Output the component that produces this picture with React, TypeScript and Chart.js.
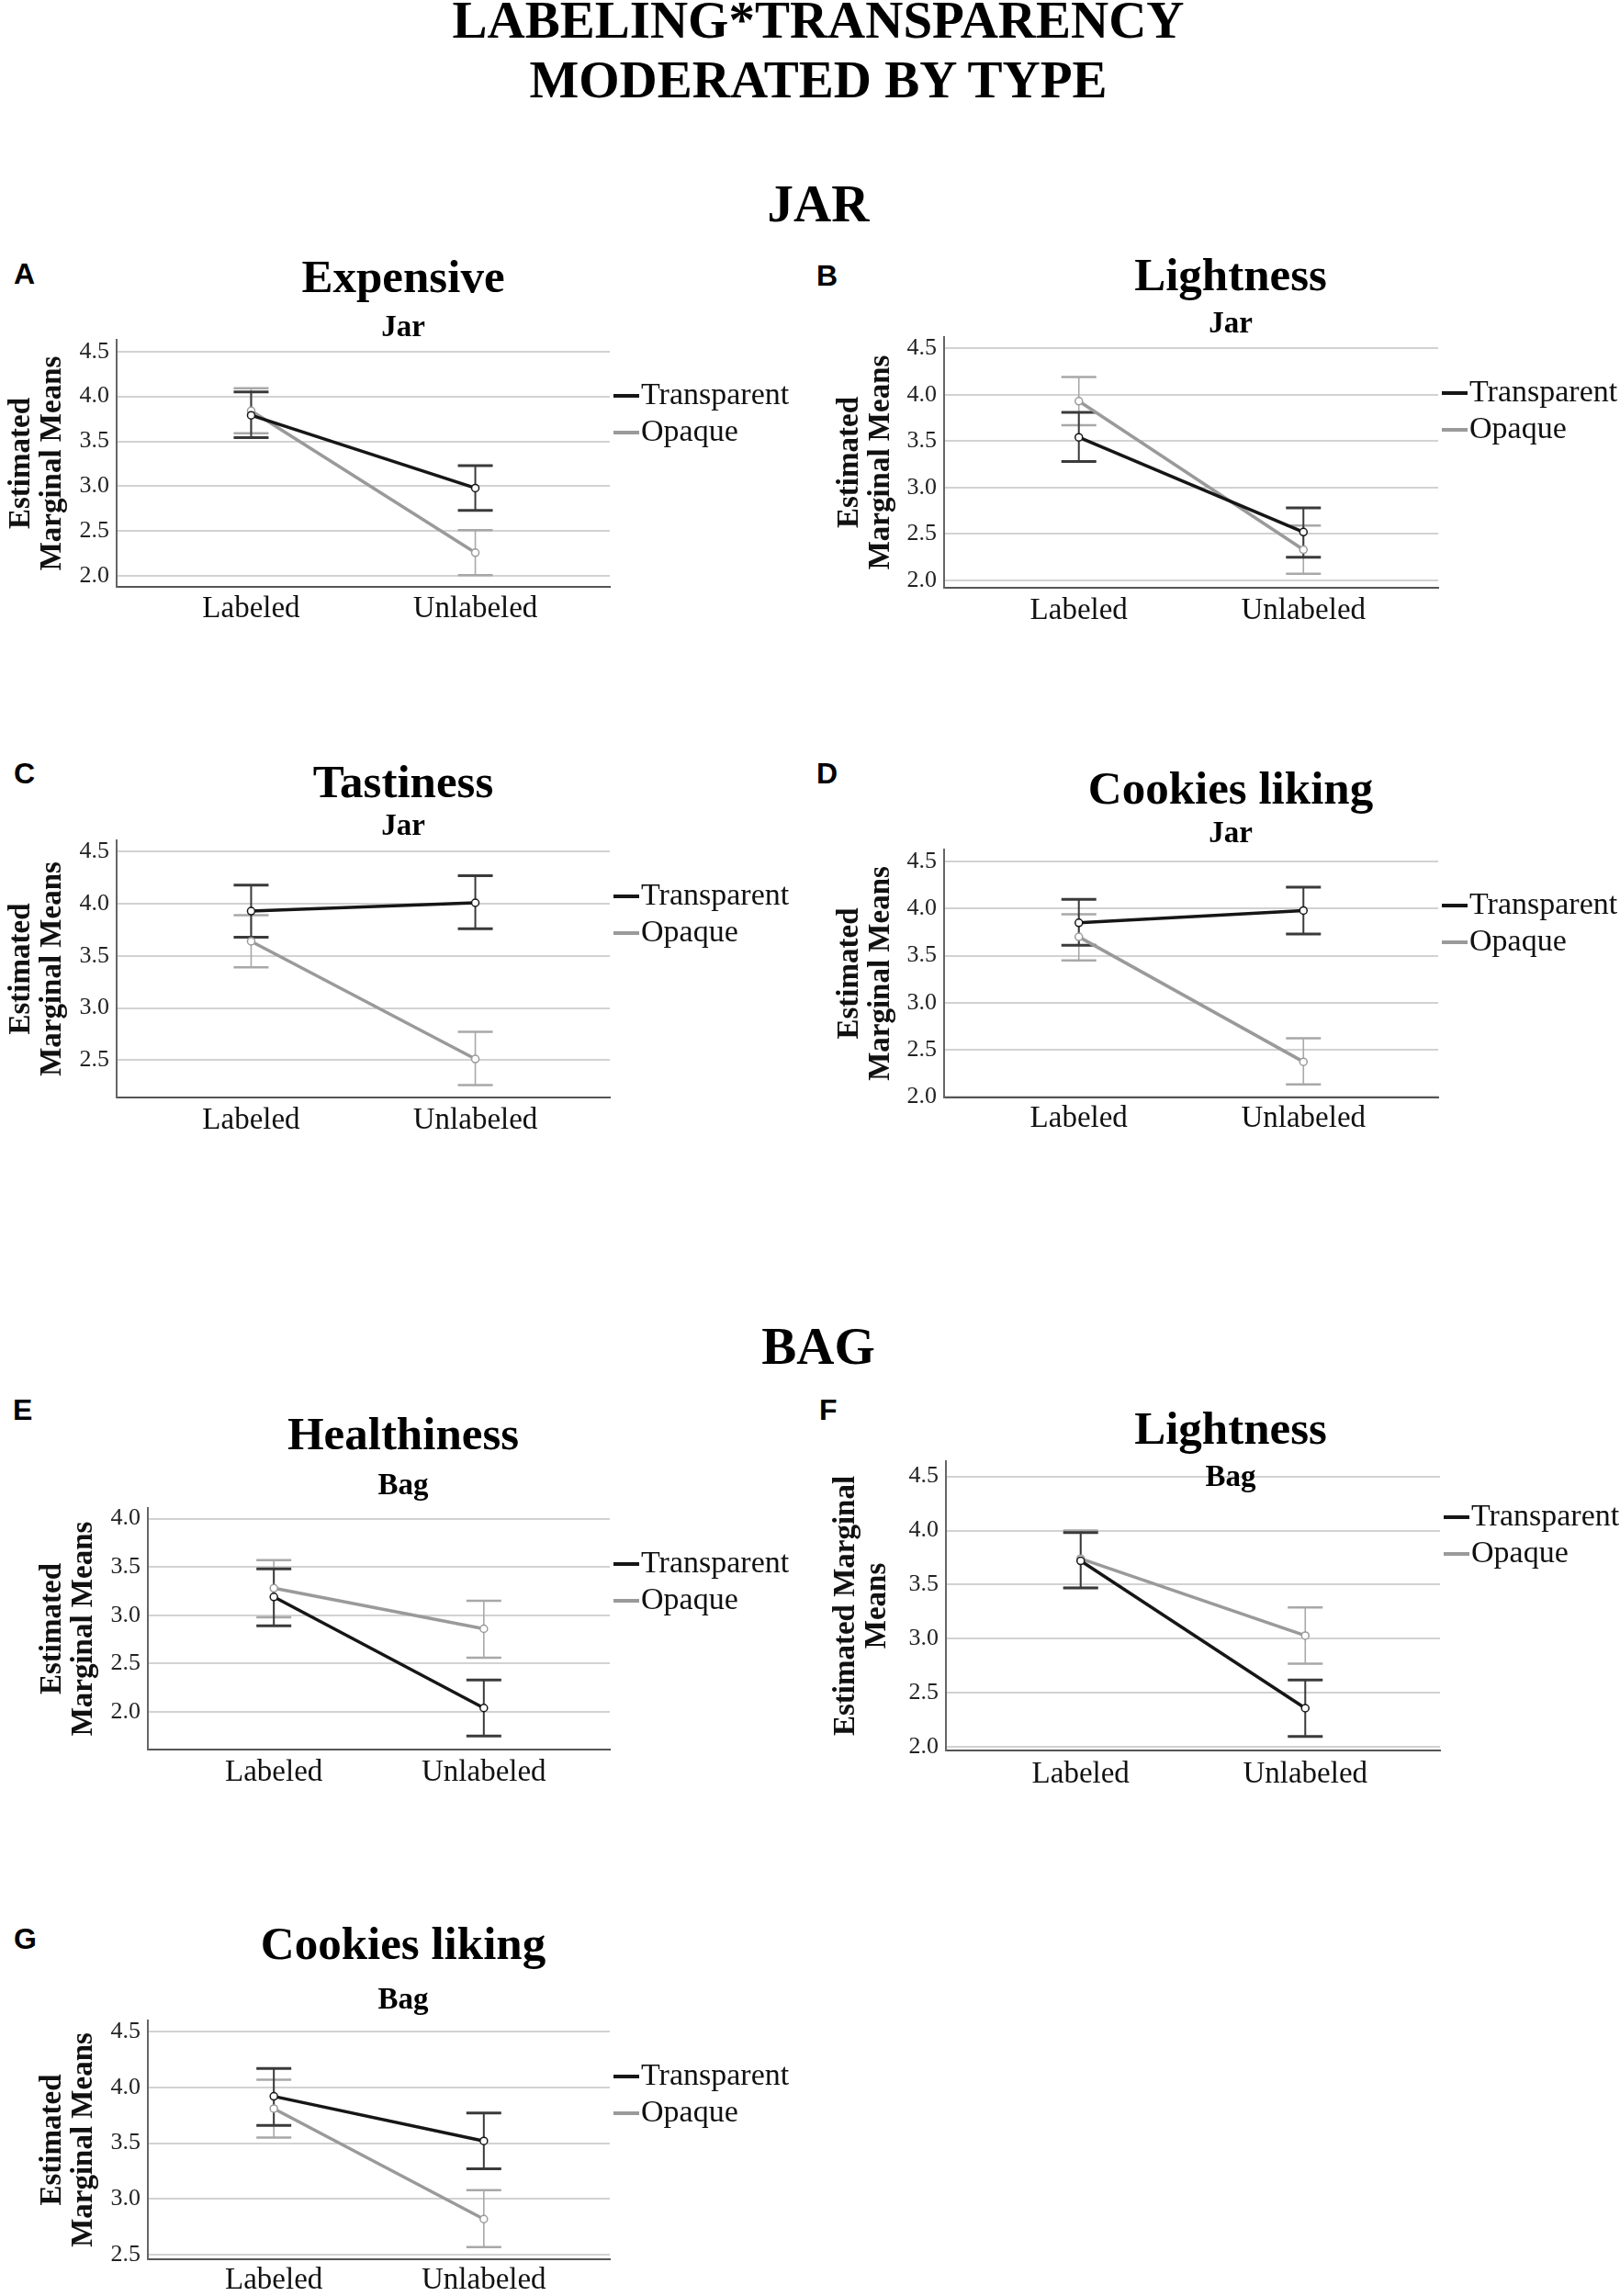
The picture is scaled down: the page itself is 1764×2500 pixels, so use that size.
import React, { useEffect, useRef } from 'react';
import { Chart, registerables } from 'chart.js';

Chart.register(...registerables);

// ---------- data ----------
const CATEGORIES = ['Labeled', 'Unlabeled'];
const SERIES = ['Transparent', 'Opaque'];

const Y_TITLE = ['Estimated', 'Marginal Means'];
const Y_TITLE_WIDE = ['Estimated Marginal', 'Means'];

// A: Expensive (Jar)
const A_TRANSPARENT = [3.79, 2.98];
const A_TRANSPARENT_LO = [3.54, 2.73];
const A_TRANSPARENT_HI = [4.05, 3.23];
const A_OPAQUE = [3.84, 2.26];
const A_OPAQUE_LO = [3.59, 2.01];
const A_OPAQUE_HI = [4.09, 2.51];
const A_TICKS = [2.0, 2.5, 3.0, 3.5, 4.0, 4.5];

// B: Lightness (Jar)
const B_TRANSPARENT = [3.54, 2.52];
const B_TRANSPARENT_LO = [3.28, 2.25];
const B_TRANSPARENT_HI = [3.81, 2.78];
const B_OPAQUE = [3.93, 2.33];
const B_OPAQUE_LO = [3.67, 2.07];
const B_OPAQUE_HI = [4.19, 2.59];
const B_TICKS = [2.0, 2.5, 3.0, 3.5, 4.0, 4.5];

// C: Tastiness (Jar)
const C_TRANSPARENT = [3.93, 4.01];
const C_TRANSPARENT_LO = [3.68, 3.76];
const C_TRANSPARENT_HI = [4.18, 4.27];
const C_OPAQUE = [3.64, 2.51];
const C_OPAQUE_LO = [3.39, 2.26];
const C_OPAQUE_HI = [3.89, 2.77];
const C_TICKS = [2.5, 3.0, 3.5, 4.0, 4.5];

// D: Cookies liking (Jar)
const D_TRANSPARENT = [3.85, 3.98];
const D_TRANSPARENT_LO = [3.61, 3.73];
const D_TRANSPARENT_HI = [4.10, 4.23];
const D_OPAQUE = [3.70, 2.37];
const D_OPAQUE_LO = [3.45, 2.13];
const D_OPAQUE_HI = [3.94, 2.62];
const D_TICKS = [2.0, 2.5, 3.0, 3.5, 4.0, 4.5];

// E: Healthiness (Bag)
const E_TRANSPARENT = [3.19, 2.04];
const E_TRANSPARENT_LO = [2.89, 1.75];
const E_TRANSPARENT_HI = [3.48, 2.33];
const E_OPAQUE = [3.28, 2.86];
const E_OPAQUE_LO = [2.98, 2.56];
const E_OPAQUE_HI = [3.57, 3.15];
const E_TICKS = [2.0, 2.5, 3.0, 3.5, 4.0];

// F: Lightness (Bag)
const F_TRANSPARENT = [3.72, 2.36];
const F_TRANSPARENT_LO = [3.47, 2.10];
const F_TRANSPARENT_HI = [3.98, 2.62];
const F_OPAQUE = [3.74, 3.03];
const F_OPAQUE_LO = [3.47, 2.77];
const F_OPAQUE_HI = [4.00, 3.29];
const F_TICKS = [2.0, 2.5, 3.0, 3.5, 4.0, 4.5];

// G: Cookies liking (Bag)
const G_TRANSPARENT = [3.92, 3.52];
const G_TRANSPARENT_LO = [3.66, 3.27];
const G_TRANSPARENT_HI = [4.17, 3.77];
const G_OPAQUE = [3.81, 2.82];
const G_OPAQUE_LO = [3.55, 2.57];
const G_OPAQUE_HI = [4.07, 3.08];
const G_TICKS = [2.5, 3.0, 3.5, 4.0, 4.5];

// ---------- styling / layout ----------
const SERIF = '"Liberation Serif", "Times New Roman", serif';
const SANS = '"Liberation Sans", Arial, sans-serif';
const LINE_COLORS = ['#161616', '#9a9a9a'];
const ERR_COLORS = ['#3a3a3a', '#a8a8a8'];
const ERR_STEM = [2, 1.6];
const ERR_CAP = [3, 2.5];

const CANVAS_W = 876;
const PAD_L = 6;
const LEFT_X = -2;
const RIGHT_X = 899;

type Panel = {
  letter: string; title: string; sub: string;
  t: number[]; tLo: number[]; tHi: number[];
  o: number[]; oLo: number[]; oHi: number[];
  ticks: number[]; yMin: number; yMax: number;
  cx: number; chartLeft: number; chartRight: number;
  tc: number; sc: number; ct: number; cb: number; lc: number;
  yTitle: string[]; yTitlePad: number; letterX: number; letterY: number;
};

const PANELS: Panel[] = [
  { letter: 'A', title: 'Expensive', sub: 'Jar', t: A_TRANSPARENT, tLo: A_TRANSPARENT_LO, tHi: A_TRANSPARENT_HI, o: A_OPAQUE, oLo: A_OPAQUE_LO, oHi: A_OPAQUE_HI, ticks: A_TICKS, yMin: 1.88, yMax: 4.63,
    cx: LEFT_X, chartLeft: 127, chartRight: 664, tc: 305, sc: 357, ct: 370, cb: 639, lc: 663, yTitle: Y_TITLE, yTitlePad: 3, letterX: 15, letterY: 298 },
  { letter: 'B', title: 'Lightness', sub: 'Jar', t: B_TRANSPARENT, tLo: B_TRANSPARENT_LO, tHi: B_TRANSPARENT_HI, o: B_OPAQUE, oLo: B_OPAQUE_LO, oHi: B_OPAQUE_HI, ticks: B_TICKS, yMin: 1.92, yMax: 4.62,
    cx: RIGHT_X, chartLeft: 1028, chartRight: 1566, tc: 303, sc: 353, ct: 367, cb: 640, lc: 665, yTitle: Y_TITLE, yTitlePad: 4, letterX: 889, letterY: 300 },
  { letter: 'C', title: 'Tastiness', sub: 'Jar', t: C_TRANSPARENT, tLo: C_TRANSPARENT_LO, tHi: C_TRANSPARENT_HI, o: C_OPAQUE, oLo: C_OPAQUE_LO, oHi: C_OPAQUE_HI, ticks: C_TICKS, yMin: 2.14, yMax: 4.61,
    cx: LEFT_X, chartLeft: 127, chartRight: 664, tc: 855, sc: 900, ct: 915, cb: 1195, lc: 1220, yTitle: Y_TITLE, yTitlePad: 3, letterX: 15, letterY: 842 },
  { letter: 'D', title: 'Cookies liking', sub: 'Jar', t: D_TRANSPARENT, tLo: D_TRANSPARENT_LO, tHi: D_TRANSPARENT_HI, o: D_OPAQUE, oLo: D_OPAQUE_LO, oHi: D_OPAQUE_HI, ticks: D_TICKS, yMin: 1.99, yMax: 4.63,
    cx: RIGHT_X, chartLeft: 1028, chartRight: 1566, tc: 862, sc: 908, ct: 925, cb: 1195, lc: 1218, yTitle: Y_TITLE, yTitlePad: 4, letterX: 889, letterY: 842 },
  { letter: 'E', title: 'Healthiness', sub: 'Bag', t: E_TRANSPARENT, tLo: E_TRANSPARENT_LO, tHi: E_TRANSPARENT_HI, o: E_OPAQUE, oLo: E_OPAQUE_LO, oHi: E_OPAQUE_HI, ticks: E_TICKS, yMin: 1.61, yMax: 4.11,
    cx: LEFT_X, chartLeft: 161, chartRight: 664, tc: 1565, sc: 1618, ct: 1642, cb: 1905, lc: 1930, yTitle: Y_TITLE, yTitlePad: 37, letterX: 14, letterY: 1535 },
  { letter: 'F', title: 'Lightness', sub: 'Bag', t: F_TRANSPARENT, tLo: F_TRANSPARENT_LO, tHi: F_TRANSPARENT_HI, o: F_OPAQUE, oLo: F_OPAQUE_LO, oHi: F_OPAQUE_HI, ticks: F_TICKS, yMin: 1.97, yMax: 4.64,
    cx: RIGHT_X, chartLeft: 1030, chartRight: 1568, tc: 1559, sc: 1609, ct: 1591, cb: 1906, lc: 1932, yTitle: Y_TITLE_WIDE, yTitlePad: 0, letterX: 892, letterY: 1535 },
  { letter: 'G', title: 'Cookies liking', sub: 'Bag', t: G_TRANSPARENT, tLo: G_TRANSPARENT_LO, tHi: G_TRANSPARENT_HI, o: G_OPAQUE, oLo: G_OPAQUE_LO, oHi: G_OPAQUE_HI, ticks: G_TICKS, yMin: 2.46, yMax: 4.60,
    cx: LEFT_X, chartLeft: 161, chartRight: 664, tc: 2120, sc: 2178, ct: 2200, cb: 2460, lc: 2483, yTitle: Y_TITLE, yTitlePad: 37, letterX: 15, letterY: 2111 },
];

const TITLE_SIZE = 51;
const SUB_SIZE = 33;
const TOP_SPACE = 150;
const X_AXIS_H = 60;
const LETTER_SIZE = 32;

// ---------- plugins ----------
const errorBarPlugin = {
  id: 'errorBars',
  beforeDatasetsDraw(chart: any) {
    const { ctx } = chart;
    const xs = chart.scales.x;
    const ys = chart.scales.y;
    const sets = chart.data.datasets.map((d: any, i: number) => ({ d, i })).reverse();
    sets.forEach(({ d }: any) => {
      ctx.save();
      d.data.forEach((pt: any, i: number) => {
        const x = xs.getPixelForValue(pt.x);
        const yl = ys.getPixelForValue(d.errLo[i]);
        const yh = ys.getPixelForValue(d.errHi[i]);
        ctx.strokeStyle = d.errColor;
        ctx.lineWidth = d.errStem;
        ctx.beginPath();
        ctx.moveTo(x, yl);
        ctx.lineTo(x, yh);
        ctx.stroke();
        ctx.lineWidth = d.errCap;
        ctx.beginPath();
        ctx.moveTo(x - 19, yl);
        ctx.lineTo(x + 19, yl);
        ctx.moveTo(x - 19, yh);
        ctx.lineTo(x + 19, yh);
        ctx.stroke();
      });
      ctx.restore();
    });
  },
};

const sideLegendPlugin = {
  id: 'sideLegend',
  afterDraw(chart: any) {
    const { ctx, chartArea } = chart;
    chart.data.datasets.forEach((d: any, i: number) => {
      const y = chartArea.top + 61 + i * 40;
      const x0 = chartArea.right + 4;
      ctx.save();
      ctx.strokeStyle = d.borderColor;
      ctx.lineWidth = 4;
      ctx.beginPath();
      ctx.moveTo(x0, y);
      ctx.lineTo(x0 + 28, y);
      ctx.stroke();
      ctx.fillStyle = '#111';
      ctx.font = `34px ${SERIF}`;
      ctx.textBaseline = 'middle';
      ctx.textAlign = 'left';
      ctx.fillText(d.label, x0 + 30, y);
      ctx.restore();
    });
  },
};

function PanelChart({ p }: { p: Panel }) {
  const ref = useRef<HTMLCanvasElement | null>(null);
  const top = p.ct - TOP_SPACE;
  const height = p.cb - top + X_AXIS_H;

  useEffect(() => {
    if (!ref.current) return;
    const titlePadTop = p.tc - TITLE_SIZE / 2 - top;
    const subPadTop = (p.sc - SUB_SIZE / 2) - (p.tc + TITLE_SIZE / 2);
    const subPadBottom = p.ct - (p.sc + SUB_SIZE / 2);
    const yAxisW = p.chartLeft - p.cx - PAD_L;
    const rightW = CANVAS_W - (p.chartRight - p.cx);

    const mk = (k: number, vals: number[], lo: number[], hi: number[]) => ({
      label: SERIES[k],
      data: vals.map((v, i) => ({ x: i, y: v })),
      borderColor: LINE_COLORS[k],
      backgroundColor: LINE_COLORS[k],
      borderWidth: 3.5,
      pointRadius: 4,
      pointBorderWidth: 1.5,
      pointBackgroundColor: '#ffffff',
      pointBorderColor: LINE_COLORS[k],
      tension: 0,
      xAxisID: 'x',
      yAxisID: 'y',
      errLo: lo,
      errHi: hi,
      errColor: ERR_COLORS[k],
      errStem: ERR_STEM[k],
      errCap: ERR_CAP[k],
    });

    const chart = new Chart(ref.current, {
      type: 'line',
      data: {
        datasets: [mk(0, p.t, p.tLo, p.tHi), mk(1, p.o, p.oLo, p.oHi)] as any,
      },
      options: {
        responsive: false,
        animation: false,
        devicePixelRatio: 1,
        layout: { padding: { left: PAD_L, right: 0, top: 0, bottom: 0 } },
        plugins: {
          legend: { display: false },
          tooltip: { enabled: false },
          title: {
            display: true,
            text: p.title,
            color: '#000',
            font: { family: SERIF, size: TITLE_SIZE, weight: 'bold', lineHeight: 1 },
            padding: { top: titlePadTop, bottom: 0 },
          },
          subtitle: {
            display: true,
            text: p.sub,
            color: '#000',
            font: { family: SERIF, size: SUB_SIZE, weight: 'bold', lineHeight: 1 },
            padding: { top: subPadTop, bottom: subPadBottom },
          },
        },
        scales: {
          x: {
            type: 'linear',
            min: -0.6,
            max: 1.6,
            grid: { display: false, drawTicks: false },
            border: { display: true, color: '#555', width: 2 },
            ticks: {
              padding: p.lc - p.cb - 16.5,
              color: '#111',
              font: { family: SERIF, size: 33, lineHeight: 1 },
              autoSkip: false,
              maxRotation: 0,
              callback: (v: any) => CATEGORIES[Number(v)] ?? '',
            },
            afterBuildTicks: (s: any) => { s.ticks = CATEGORIES.map((_, i) => ({ value: i })); },
            afterFit: (s: any) => { s.height = X_AXIS_H; },
          },
          y: {
            type: 'linear',
            position: 'left',
            min: p.yMin,
            max: p.yMax,
            grid: { color: '#d2d2d2', lineWidth: 2, drawTicks: false },
            border: { display: true, color: '#666', width: 2 },
            ticks: {
              padding: 8,
              color: '#222',
              font: { family: SERIF, size: 26 },
              callback: (v: any) => Number(v).toFixed(1),
            },
            afterBuildTicks: (s: any) => { s.ticks = p.ticks.map((v) => ({ value: v })); },
            afterFit: (s: any) => { s.width = yAxisW; },
            title: {
              display: true,
              text: p.yTitle,
              color: '#111',
              font: { family: SERIF, size: 33, weight: 'bold', lineHeight: 1.02 },
              padding: { top: p.yTitlePad, bottom: 0 },
            },
          },
          yR: {
            type: 'linear',
            position: 'right',
            display: true,
            grid: { display: false, drawTicks: false },
            border: { display: false },
            ticks: { display: false },
            afterFit: (s: any) => { s.width = rightW; },
          },
        },
      } as any,
      plugins: [errorBarPlugin, sideLegendPlugin],
    });
    return () => chart.destroy();
  }, []);

  return (
    <canvas
      ref={ref}
      width={CANVAS_W}
      height={height}
      style={{ position: 'absolute', left: p.cx, top, width: CANVAS_W, height }}
    />
  );
}

const headStyle: React.CSSProperties = {
  position: 'absolute',
  left: 0,
  width: 1782,
  textAlign: 'center',
  fontFamily: SERIF,
  fontWeight: 'bold',
  fontSize: 57,
  lineHeight: '65px',
  color: '#000',
  whiteSpace: 'nowrap',
};

export default function App() {
  useEffect(() => {
    document.body.style.margin = '0';
  }, []);
  return (
    <div style={{ position: 'absolute', left: 0, top: 0, width: 1764, height: 2500, overflow: 'hidden', background: '#fff' }}>
      <div style={{ ...headStyle, top: -11 }}>
        LABELING*TRANSPARENCY
        <br />
        MODERATED BY TYPE
      </div>
      <div style={{ ...headStyle, top: 189 }}>JAR</div>
      <div style={{ ...headStyle, top: 1433 }}>BAG</div>
      {PANELS.map((p) => (
        <React.Fragment key={p.letter}>
          <div
            style={{
              position: 'absolute',
              left: p.letterX,
              top: p.letterY - 15.6,
              fontFamily: SANS,
              fontWeight: 'bold',
              fontSize: LETTER_SIZE,
              lineHeight: `${LETTER_SIZE}px`,
              color: '#000',
            }}
          >
            {p.letter}
          </div>
          <PanelChart p={p} />
        </React.Fragment>
      ))}
    </div>
  );
}
